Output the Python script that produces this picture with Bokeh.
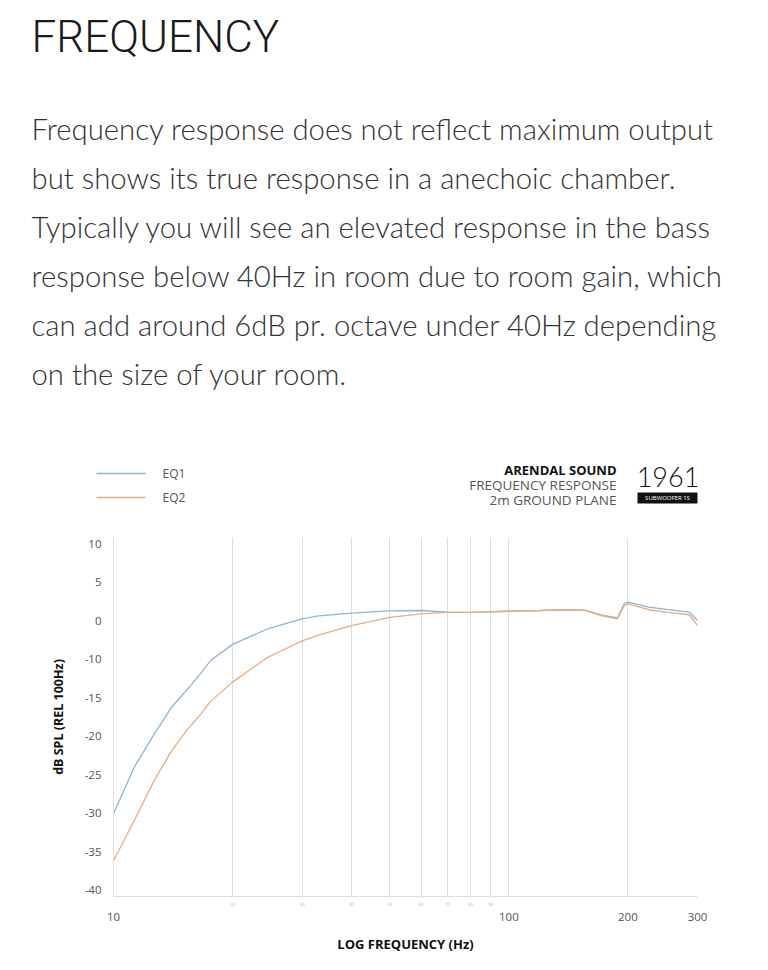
from bokeh.plotting import figure
from bokeh.models import Range1d, FixedTicker, LogAxis, PrintfTickFormatter
from bokeh.core.properties import value
from bokeh.embed import file_html
from bokeh.resources import INLINE

# ---------------- data ----------------
freq = [10, 11.3, 12.7, 14, 15.4, 16.6, 17.6, 20, 24.5, 30, 33, 40, 50, 60, 70, 80,
        100, 120, 140, 155, 172, 188, 196, 200, 226, 250, 286, 300]
eq1 = [-25.1, -19.0, -14.7, -11.3, -8.9, -6.9, -5.2, -3.1, -1.1, 0.2, 0.6, 0.95, 1.25, 1.3, 1.1, 1.05,
       1.2, 1.3, 1.4, 1.35, 0.7, 0.35, 2.2, 2.4, 1.75, 1.45, 1.1, 0.0]
eq2 = [-31.2, -25.9, -20.7, -17.0, -14.1, -12.2, -10.5, -8.0, -4.8, -2.65, -1.9, -0.65, 0.4, 0.85, 1.05, 1.05,
       1.2, 1.3, 1.4, 1.35, 0.6, 0.2, 1.95, 2.15, 1.4, 1.1, 0.75, -0.65]
series_names = ["EQ1", "EQ2"]

y_ticks = [10, 5, 0, -5, -10, -15, -20, -25, -30, -35]
y_tick_labels = ["10", "5", "0", "-10", "-15", "-20", "-25", "-30", "-35", "-40"]
x_minor_ticks = [20, 30, 40, 50, 60, 70, 80, 90]
x_major_ticks = [10, 100, 200, 300]
x_grid_ticks = [20, 30, 40, 50, 60, 70, 80, 90, 100, 200, 300]

title_text = "FREQUENCY"
body_lines = [
    "Frequency response does not reflect maximum output",
    "but shows its true response in a anechoic chamber.",
    "Typically you will see an elevated response in the bass",
    "response below 40Hz in room due to room gain, which",
    "can add around 6dB pr. octave under 40Hz depending",
    "on the size of your room.",
]
brand_lines = ["ARENDAL SOUND", "FREQUENCY RESPONSE", "2m GROUND PLANE"]
model_name = "1961"
model_tag = "SUBWOOFER 1S"

BLUE = "#8fb4d4"
ORANGE = "#e5ae84"
GRID = "#dedede"

W = 768
HEAD_H = 528
CHART_H = 442

# ---------------- header (text, legend, brand) ----------------
h = figure(width=W, height=HEAD_H, output_backend="svg", toolbar_location=None,
           x_range=Range1d(0, W), y_range=Range1d(HEAD_H, 0),
           x_axis_location=None, y_axis_location=None, title_location=None,
           min_border=0, outline_line_color=None)
h.grid.visible = False

h.text(x=[31], y=[36], text=[title_text], text_font=value("Roboto Light"),
       text_font_size="44px", text_color="#1a1a1a", text_baseline="middle")

body_y = [128 + 49 * i for i in range(len(body_lines))]
h.text(x=[31] * len(body_lines), y=body_y, text=body_lines, text_font=value("Lato Light"),
       text_font_size="29.3px", text_color="#333333", text_baseline="middle")

# legend
leg_y = [473, 497]
h.segment(x0=[96, 96], y0=leg_y, x1=[145, 145], y1=leg_y, line_color=[BLUE, ORANGE], line_width=1.3)
h.text(x=[162, 162], y=leg_y, text=series_names, text_font=value("Open Sans"),
       text_font_size="12px", text_color="#555555", text_baseline="middle")

# brand block
h.text(x=[616], y=[469], text=[brand_lines[0]], text_font=value("Open Sans"), text_font_style="bold",
       text_font_size="13px", text_color="#111111", text_baseline="middle", text_align="right")
h.text(x=[616, 616], y=[484, 499], text=brand_lines[1:], text_font=value("Open Sans"),
       text_font_size="13.5px", text_color="#555555", text_baseline="middle", text_align="right")
h.text(x=[667.5], y=[476], text=[model_name], text_font=value("Lato Light"),
       text_font_size="27px", text_color="#111111", text_baseline="middle", text_align="center")
h.quad(left=[637], right=[697], top=[492], bottom=[503], fill_color="#111111", line_color=None)
h.text(x=[667], y=[497.8], text=[model_tag], text_font=value("Open Sans"),
       text_font_size="6px", text_color="#ffffff", text_baseline="middle", text_align="center")

# ---------------- chart ----------------
p = figure(width=W, height=CHART_H, output_backend="svg", toolbar_location=None,
           x_axis_type="log", x_range=Range1d(10, 300), y_range=Range1d(-35.84, 10.78),
           min_border_left=113, min_border_right=71, min_border_top=9, min_border_bottom=74,
           title_location=None, outline_line_color=None)

p.line(freq, eq1, line_color=BLUE, line_width=1.3)
p.line(freq, eq2, line_color=ORANGE, line_width=1.3)

# grid
p.ygrid.visible = False
p.xgrid.ticker = FixedTicker(ticks=x_grid_ticks)
p.xgrid.grid_line_color = GRID
p.xgrid.grid_line_width = 1

# y axis
ya = p.yaxis[0]
ya.ticker = FixedTicker(ticks=y_ticks)
ya.major_label_overrides = {t: l for t, l in zip(y_ticks, y_tick_labels)}
ya.axis_line_color = GRID
ya.major_tick_line_color = None
ya.minor_tick_line_color = None
ya.major_label_standoff = 6
ya.major_label_text_font = "Open Sans"
ya.major_label_text_font_size = "11.5px"
ya.major_label_text_color = "#555555"
ya.axis_label = "dB SPL (REL 100Hz)"
ya.axis_label_text_font = "Open Sans"
ya.axis_label_text_font_style = "bold"
ya.axis_label_text_font_size = "12.5px"
ya.axis_label_text_color = "#111111"
ya.axis_label_standoff = 15

# x axis (small intermediate labels)
xa = p.xaxis[0]
xa.ticker = FixedTicker(ticks=x_minor_ticks)
xa.formatter = PrintfTickFormatter(format="%d")
xa.axis_line_color = GRID
xa.major_tick_line_color = None
xa.minor_tick_line_color = None
xa.major_label_standoff = 0
xa.major_label_text_font = "Open Sans"
xa.major_label_text_font_size = "4px"
xa.major_label_text_color = "#aaaaaa"

# x axis (main labels)
xb = LogAxis(ticker=FixedTicker(ticks=x_major_ticks), formatter=PrintfTickFormatter(format="%d"))
xb.axis_line_color = None
xb.major_tick_line_color = None
xb.minor_tick_line_color = None
xb.major_label_standoff = -2
xb.major_label_text_font = "Open Sans"
xb.major_label_text_font_size = "11.5px"
xb.major_label_text_color = "#555555"
xb.axis_label = "LOG FREQUENCY (Hz)"
xb.axis_label_text_font = "Open Sans"
xb.axis_label_text_font_style = "bold"
xb.axis_label_text_font_size = "13px"
xb.axis_label_text_color = "#111111"
xb.axis_label_standoff = 11
p.add_layout(xb, "below")

open("out.html", "w").write(file_html([h, p], INLINE))
